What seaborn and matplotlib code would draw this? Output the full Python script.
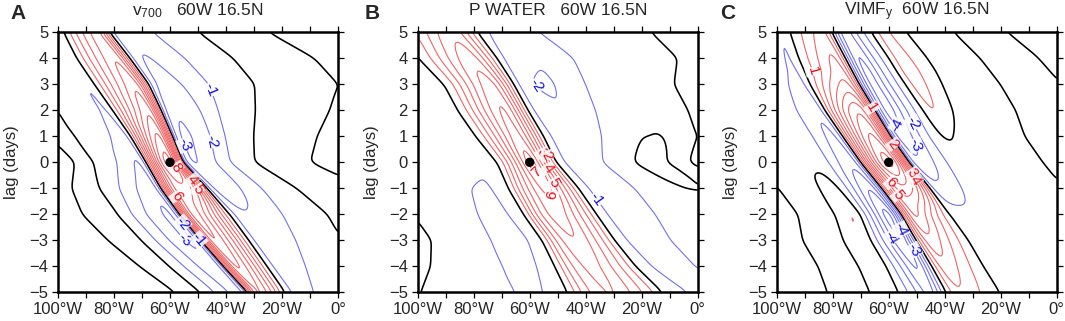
import numpy as np
import matplotlib
matplotlib.use("Agg")
import matplotlib.pyplot as plt
import seaborn as sns

# ---------------- data ----------------
LAGS = [-5, -4, -3, -2, -1, 0, 1, 2, 3, 4, 5]
LAG_TICKS = [-5, -4, -3, -2, -1, 0, 1, 2, 3, 4, 5]
LON_TICKS = [-100, -80, -60, -40, -20, 0]
LON_TICK_LABELS = ["100°W", "80°W", "60°W", "40°W", "20°W", "0°"]
LON_MINOR = [-90, -70, -50, -30, -10]
PANEL_LETTERS = ["A", "B", "C"]
TITLES = ["v$\\mathregular{_{700}}$   60W 16.5N", "P WATER   60W 16.5N",
          "VIMF$\\mathregular{_{y}}$  60W 16.5N"]
REF_LON = [-60]
REF_LAG = [0]

# ---- Panel A (v700) ----
KEYS_A = [-2, 0, 2]            # lags of the south / centre / north cross-sections
AXIS_A = [-25.5, -33, -40.3, -47.5, -55, -62, -66.7, -72, -77.5, -84, -90]
WIDTH_A = [0.81, 0.94, 1.04, 1.09, 1.0, 0.8, 0.91, 1.06, 1.19, 1.16, 1.0]
CORE_A = [0.65, 0.8, 0.9, 0.95, 1.0, 1.0, 0.95, 0.85, 0.72, 0.62, 0.56]
NE_A = [0.6, 0.7, 0.8, 0.9, 0.95, 0.95, 1.0, 0.9, 0.75, 0.65, 0.55]
SW_A = [0.8, 0.9, 1.0, 1.0, 0.9, 0.75, 0.6, 0.45, 0.4, 0.35, 0.35]
OFFS_A = [-120, -50, -40, -34, -28, -22, -16, -12, -10, -8, -6.5, -5, -3.5, -2, 0,
          2, 3.5, 5, 6.5, 8, 10, 13, 18, 23, 28, 34, 40, 50, 65, 80, 120]
SOUTH_A = [-0.3, -0.3, 0.0, 0.3, 0.0, -1.5, -2.6, -3.4, -2.8, 0.0, 4.5, 7.5, 8.5, 7.6, 6.2,
           5.0, 3.8, 2.5, 1.2, 0.0, -1.5, -2.2, -2.0, -1.4, -0.8, -0.3, 0.0, 0.4, 0.0, -0.3, -0.3]
CENTRE_A = [-0.3, -0.3, 0.0, 0.2, -0.3, -1.2, -2.2, -3.0, -2.6, 0.0, 2.0, 4.0, 6.0, 7.8, 9.3,
            10.2, 9.5, 7.0, 3.5, 0.0, -2.8, -3.4, -2.8, -2.1, -1.2, -0.5, 0.0, 0.5, 0.0, -0.4, -0.4]
NORTH_A = [-0.3, -0.3, 0.0, 0.2, 0.1, -0.3, -1.0, -2.4, -2.8, 0.0, 1.2, 2.5, 3.8, 5.0, 6.2,
           7.6, 8.5, 7.5, 4.5, 0.0, -2.6, -3.3, -2.7, -2.0, -1.0, -0.4, 0.0, 0.5, 0.0, -0.4, -0.4]
LABELS_A = [(8, -54.0, 0.02), (4, -51.1, -0.6), (5, -49.6, -1.0), (6, -55.6, -1.15),
            (-1, -52.9, 2.47), (-3, -53.5, 0.74), (-2, -43.9, 0.81),
            (-2, -57.0, -2.47), (-3, -55.8, -3.1), (-1, -49.9, -2.99)]

# ---- Panel B (precipitable water) ----
KEYS_B = [-2, 0, 2]
AXIS_B = [-29.5, -36.5, -42.5, -49, -55, -61, -67, -73, -78, -85.5, -92]
WIDTH_B = [1.65, 1.4, 1.25, 1.25, 1.2, 1.0, 1.15, 1.2, 1.2, 1.35, 1.3]
CORE_B = [0.65, 0.7, 0.8, 0.9, 0.95, 1.0, 0.95, 1.0, 0.9, 0.75, 0.6]
NE_B = [0.7, 0.8, 0.85, 0.9, 0.9, 0.9, 1.0, 1.2, 1.35, 1.2, 0.9]
SW_B = [1.0, 1.1, 1.2, 1.1, 1.0, 0.6, 0.5, 0.5, 0.5, 0.5, 0.5]
OFFS_B = [-120, -55, -42, -32, -24, -17, -13, -10, -8, -6, -4, -2, 0, 1.5, 3, 4.5, 6,
          7.5, 9, 10, 12, 16, 21, 26, 32, 36, 41, 46, 52, 58, 66, 120]
SOUTH_B = [0.4, 0.4, 0.0, -0.4, -0.9, -1.2, -0.6, 0.0, 2.4, 4.2, 5.4, 6.2, 6.2, 5.6, 4.8, 4.0, 3.0,
           2.2, 1.0, 0.0, -0.9, -1.5, -1.6, -1.2, -0.7, -0.5, -0.4, -0.3, -0.2, 0.0, 0.3, 0.3]
CENTRE_B = [0.4, 0.4, 0.0, -0.4, -0.9, -1.2, -0.6, 0.0, 1.3, 2.6, 4.0, 5.6, 7.2, 8.2, 7.0, 5.5, 4.0,
            2.6, 1.2, 0.0, -0.9, -1.5, -1.6, -1.2, -0.7, -0.3, 0.35, 0.4, -0.2, 0.0, 0.3, 0.3]
NORTH_B = [0.4, 0.4, 0.0, -0.4, -0.9, -1.2, -0.6, 0.0, 1.0, 2.1, 3.2, 4.4, 5.4, 6.0, 6.3, 5.8, 4.6,
           3.0, 1.4, 0.0, -0.9, -1.5, -1.6, -1.2, -0.7, -0.5, -0.4, -0.3, -0.2, 0.0, 0.3, 0.3]
LABELS_B = [(-2, -59.8, 2.78), (-1, -34.8, -1.32), (3, -54.5, 0.41), (2, -52.9, 0.28),
            (4, -52.7, -0.17), (5, -50.3, -0.74), (6, -51.1, -1.26), (7, -59.5, -0.91)]

# ---- Panel C (meridional vapour flux) ----
KEYS_C = [-2, 0, 3.5]
AXIS_C = [-30, -35.5, -41, -47, -54, -61.5, -68, -74, -79.5, -84, -88]
WIDTH_C = [1.2, 1.15, 1.15, 1.05, 1.05, 1.05, 1.05, 1.1, 1.1, 1.05, 0.95]
CORE_C = [0.35, 0.5, 0.7, 1.0, 1.0, 1.0, 1.0, 1.0, 0.75, 0.6, 0.45]
NE_C = [0.6, 0.7, 0.8, 0.9, 0.9, 0.9, 1.0, 1.0, 0.85, 0.75, 0.65]
SW_C = [0.6, 0.75, 0.9, 1.0, 0.95, 0.9, 0.85, 0.8, 0.7, 0.6, 0.55]
OFFS_C = [-120, -55, -43, -37, -30, -28, -25, -22, -20, -17, -14.5, -12.5, -11, -9.5, -8,
          -6.5, -5, -3, -1, 1.5, 3.5, 5.5, 7, 8, 9.5, 11, 12.5, 14.5, 17, 20, 23, 27, 31,
          35, 44, 54, 63, 73, 120]
SOUTH_C = [0.3, 0.3, 0.0, -0.3, 0.0, 0.5, 1.3, 0.0, -1.2, -3.0, -5.0, -6.0, -4.5, -2.0, 0.0,
           2.5, 5.0, 5.5, 4.5, 3.2, 2.2, 1.3, 0.6, 0.0, -0.5, -0.6, -0.7, -0.8, -0.8, -0.6, -0.4, -0.3, -0.3,
           -0.3, -0.25, 0.0, 0.3, 0.0, -0.3]
CENTRE_C = [0.3, 0.3, 0.0, -0.2, -0.2, -0.2, -0.25, -0.3, -0.8, -1.8, -2.6, -3.2, -3.0, -2.5, 0.0,
            2.5, 4.6, 7.0, 9.0, 10.0, 9.0, 6.0, 3.2, 0.0, -2.5, -3.2, -3.2, -2.8, -2.2, -1.3, -0.8, -0.7, -0.6,
            -0.45, -0.25, 0.0, 0.3, 0.0, -0.3]
NORTH_C = [0.3, 0.3, 0.0, -0.1, -0.1, -0.1, -0.2, -0.3, -0.5, -0.9, -1.3, -1.7, -1.9, -1.4, 0.0,
           0.7, 1.5, 2.5, 3.5, 4.6, 5.5, 5.0, 2.5, 0.0, -2.0, -4.5, -6.0, -5.0, -3.0, -1.5, 0.0, 2.6, 1.0,
           0.0, -0.3, 0.0, 0.3, 0.0, -0.3]
LABELS_C = [(1, -85.5, 3.56), (1, -65.8, 2.09), (2, -58.7, 0.68), (6, -58.7, -0.74),
            (3, -53.3, -0.55), (4, -52.1, -0.81), (5, -55.7, -1.19),
            (-2, -51.5, 1.51), (-4, -56.3, 1.19), (-3, -51.5, 0.62),
            (-4, -59.4, -2.92), (-3, -52.9, -3.5), (-4, -55.1, -2.54)]

PANELS = [
    (KEYS_A, AXIS_A, WIDTH_A, CORE_A, NE_A, SW_A, OFFS_A, SOUTH_A, CENTRE_A, NORTH_A),
    (KEYS_B, AXIS_B, WIDTH_B, CORE_B, NE_B, SW_B, OFFS_B, SOUTH_B, CENTRE_B, NORTH_B),
    (KEYS_C, AXIS_C, WIDTH_C, CORE_C, NE_C, SW_C, OFFS_C, SOUTH_C, CENTRE_C, NORTH_C),
]
LABELS = [LABELS_A, LABELS_B, LABELS_C]

# ---------------- styling ----------------
RED_LINE = "#f06464"
BLUE_LINE = "#7070f0"
RED_TXT = "#f00a14"
BLUE_TXT = "#1010e6"

sns.set_theme(style="ticks")
plt.rcParams["font.family"] = ["Liberation Sans", "DejaVu Sans"]
plt.rcParams["mathtext.fontset"] = "custom"
plt.rcParams["mathtext.rm"] = "Liberation Sans"
plt.rcParams["axes.unicode_minus"] = True

lon = np.linspace(-100, 0, 401)
lag = np.linspace(-5, 5, 201)


def gsmooth(z, sy, sx):
    def kern(s):
        r = int(3 * s) + 1
        x = np.arange(-r, r + 1)
        g = np.exp(-0.5 * (x / s) ** 2)
        return g / g.sum(), r
    gx, rx = kern(sx)
    zp = np.pad(z, ((0, 0), (rx, rx)), mode="edge")
    z = np.apply_along_axis(lambda v: np.convolve(v, gx, mode="valid"), 1, zp)
    gy, ry = kern(sy)
    zp = np.pad(z, ((ry, ry), (0, 0)), mode="edge")
    z = np.apply_along_axis(lambda v: np.convolve(v, gy, mode="valid"), 0, zp)
    return z


def build(keys, axis, width, core, ne, sw, offs, south, centre, north):
    LON, _ = np.meshgrid(lon, lag)
    offs = np.asarray(offs, float)
    a = np.interp(lag, LAGS, axis)[:, None]
    w = np.interp(lag, LAGS, width)[:, None]
    s = (LON - a) / w
    ws = np.interp(lag, keys, [1, 0, 0])[:, None]
    wc = np.interp(lag, keys, [0, 1, 0])[:, None]
    wn = np.interp(lag, keys, [0, 0, 1])[:, None]
    p = (ws * np.interp(s, offs, south) + wc * np.interp(s, offs, centre)
         + wn * np.interp(s, offs, north))
    c = np.asarray(centre, float)
    sw_edge = offs[(offs < 0) & (c <= 0)].max()
    ne_edge = offs[(offs > 0) & (c <= 0)].min()
    ec = np.interp(lag, LAGS, core)[:, None]
    en = np.interp(lag, LAGS, ne)[:, None]
    es = np.interp(lag, LAGS, sw)[:, None]
    env = np.where(s < sw_edge, es, np.where(s > ne_edge, en, ec))
    return gsmooth(p * env, 2.5, 4.0)


def put_labels(ax, cs, items, color):
    levels = [float(v) for v in cs.levels]
    segs_all = cs.allsegs
    T = ax.transData
    for lvl, x, y in items:
        if float(lvl) not in levels:
            continue
        segs = [s for s in segs_all[levels.index(float(lvl))] if len(s) > 3]
        if not segs:
            continue
        px, py = T.transform((x, y))
        best = None
        for seg in segs:
            d = T.transform(seg)
            dist = (d[:, 0] - px) ** 2 + (d[:, 1] - py) ** 2
            j = int(dist.argmin())
            if best is None or dist[j] < best[0]:
                best = (dist[j], seg, d, j)
        _, seg, d, j = best
        j0, j1 = max(j - 4, 0), min(j + 4, len(seg) - 1)
        ang = np.degrees(np.arctan2(d[j1, 1] - d[j0, 1], d[j1, 0] - d[j0, 0]))
        if ang > 90:
            ang -= 180
        if ang < -90:
            ang += 180
        ax.text(seg[j, 0], seg[j, 1], "%d" % lvl, rotation=ang, rotation_mode="anchor",
                ha="center", va="center", color=color, fontsize=11, zorder=5,
                bbox=dict(boxstyle="square,pad=0.02", facecolor="white", edgecolor="none", alpha=0.85))


fig = plt.figure(figsize=(10.65, 3.21), dpi=100)
W, H = 1065.0, 321.0
lefts = [58.0, 417.7, 776.7]
letter_x = [10.0, 365.0, 720.0]

for i in range(3):
    ax = fig.add_axes([lefts[i] / W, 28.7 / H, 280.0 / W, 260.0 / H])
    ax.set_xlim(-100, 0)
    ax.set_ylim(-5, 5)
    z = build(*PANELS[i])
    zmin, zmax = np.nanmin(z), np.nanmax(z)
    neg_levels = [v for v in range(-9, 0) if v > zmin]
    pos_levels = [v for v in range(1, 14) if v < zmax]
    cn = ax.contour(lon, lag, z, levels=neg_levels, colors=BLUE_LINE,
                    linewidths=0.8, linestyles="solid")
    ax.contour(lon, lag, z, levels=[0], colors="black", linewidths=1.15,
               linestyles="solid")
    cp = ax.contour(lon, lag, z, levels=pos_levels, colors=RED_LINE,
                    linewidths=0.8, linestyles="solid")
    put_labels(ax, cp, [t for t in LABELS[i] if t[0] > 0], RED_TXT)
    put_labels(ax, cn, [t for t in LABELS[i] if t[0] < 0], BLUE_TXT)
    sns.scatterplot(x=REF_LON, y=REF_LAG, color="black", s=45, ax=ax,
                    zorder=6, legend=False, edgecolor="none")
    ax.set_xlim(-100, 0)
    ax.set_ylim(-5, 5)
    ax.set_xticks(LON_TICKS)
    ax.set_xticklabels(LON_TICK_LABELS)
    ax.set_xticks(LON_MINOR, minor=True)
    ax.set_yticks(LAG_TICKS)
    ax.tick_params(which="both", direction="out", length=4, width=0.9,
                   top=True, right=True, labelsize=12, pad=3, color="black")
    for sp in ax.spines.values():
        sp.set_linewidth(1.8)
        sp.set_color("black")
    ax.set_ylabel("lag (days)", fontsize=12, labelpad=7)
    ax.set_xlabel("")
    ax.set_title(TITLES[i], fontsize=12.5, pad=12.5)
    fig.text(letter_x[i] / W, 1 - 19.0 / H, PANEL_LETTERS[i], fontsize=15,
             fontweight="bold", ha="left", va="baseline")

fig.savefig("out.png", dpi=100)
